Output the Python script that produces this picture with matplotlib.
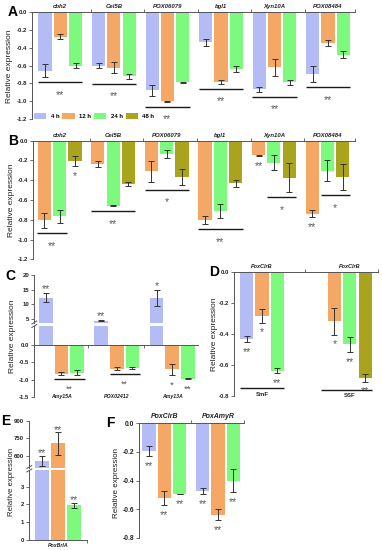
import matplotlib
matplotlib.use('Agg')
import matplotlib.pyplot as plt
from matplotlib.patches import Patch
from matplotlib.lines import Line2D

plt.rcParams['font.family'] = ['Liberation Sans', 'DejaVu Sans']

W, H = 382, 550
fig = plt.figure(figsize=(W / 100, H / 100), dpi=100)

COL = {'4 h': '#b4bcf6', '12 h': '#f5a766', '24 h': '#7dfa7d', '48 h': '#a9a31d'}
SPINE = '#555555'
ERRC = '#333333'
STARC = '#5a5a5a'
LINEC = '#1a1a1a'
time_labels = ['4 h', '12 h', '24 h', '48 h']

# ---------------- data ----------------
genes_AB = ['cbh2', 'Cel5B', 'POX06079', 'bgl1', 'Xyn10A', 'POX08484']
A_4h = [-0.66, -0.60, -0.88, -0.34, -0.867, -0.695]
A_4h_err = [0.073, 0.03, 0.065, 0.04, 0.025, 0.095]
A_12h = [-0.277, -0.624, -1.0, -0.785, -0.62, -0.35]
A_12h_err = [0.028, 0.058, 0.005, 0.02, 0.097, 0.034]
A_24h = [-0.60, -0.72, -0.79, -0.64, -0.79, -0.48]
A_24h_err = [0.026, 0.026, 0.007, 0.03, 0.026, 0.04]
A_sig = ['**', '**', '**', '**', '**', '**']

B_12h = [-0.806, -0.236, -0.31, -0.802, -0.148, -0.738]
B_12h_err = [0.078, 0.03, 0.108, 0.044, 0.005, 0.034]
B_24h = [-0.765, -0.66, -0.138, -0.711, -0.222, -0.303]
B_24h_err = [0.063, 0.005, 0.04, 0.069, 0.078, 0.104]
B_48h = [-0.206, -0.438, -0.364, -0.431, -0.377, -0.37]
B_48h_err = [0.05, 0.024, 0.08, 0.034, 0.147, 0.13]
B_sig_bars = [[0, 1], [0, 1, 2], [0, 1, 2], [0, 1, 2], [1, 2], [1, 2]]
B_sig = ['**', '**', '*', '**', '*', '*']
B_single = [(0, 2, '*'), (4, 0, '**'), (5, 0, '**')]

genes_C = ['Amy15A', 'POX02412', 'Amy13A']
C_4h = [12.3, 4.5, 12.3]
C_4h_err = [1.6, 0.15, 2.7]
C_12h = [-0.83, -0.69, -0.707]
C_12h_err = [0.05, 0.05, 0.15]
C_24h = [-0.80, -0.67, -0.974]
C_24h_err = [0.08, 0.03, 0.01]
C_4h_sig = ['**', '**', '*']
C_line_sig = ['**', '**', None]
C_single = [(2, 1, '*'), (2, 2, '**')]

D_conditions = ['SmF', 'SSF']
D_gene = 'PoxClrB'
D_SmF_times = ['4 h', '12 h', '24 h']
D_SmF = [-0.433, -0.282, -0.636]
D_SmF_err = [0.02, 0.046, 0.016]
D_SmF_sig = ['**', '*', '**']
D_SSF_times = ['12 h', '24 h', '48 h']
D_SSF = [-0.317, -0.466, -0.683]
D_SSF_err = [0.087, 0.05, 0.026]
D_SSF_sig = ['*', '**', '**']

E_gene = 'PoxBrlA'
E_vals = [555, 706, 1.95]
E_err = [45, 95, 0.16]
E_sig = ['**', '**', '**']

genes_F = ['PoxClrB', 'PoxAmyR']
F_4h = [-0.194, -0.473]
F_4h_err = [0.032, 0.023]
F_12h = [-0.522, -0.639]
F_12h_err = [0.049, 0.04]
F_24h = [-0.494, -0.403]
F_24h_err = [0.003, 0.08]
F_sig = ['**', '**']

GSTEP = 3.5
BW = 0.86


# ---------------- helpers ----------------
def add_ax(l, r, t, b):
    ax = fig.add_axes([l / W, 1 - b / H, (r - l) / W, (b - t) / H])
    ax.patch.set_alpha(0)
    for s in ax.spines.values():
        s.set_color(SPINE)
        s.set_linewidth(0.7)
    ax.tick_params(colors='#222222', labelsize=4.3, width=0.6, length=2.5, pad=1.2)
    ax.tick_params(color=SPINE)
    return ax


def yticks(ax, ticks, labels, size=4.3):
    ax.set_yticks(ticks)
    ax.set_yticklabels(labels, fontsize=size, fontweight='bold')


def bars(ax, xs, vals, errs, color, w=BW):
    ax.bar(xs, vals, w, color=color, linewidth=0, zorder=2)
    ax.errorbar(xs, vals, yerr=errs, fmt='none', ecolor=ERRC, elinewidth=0.7,
                capsize=2.3, capthick=0.7, zorder=3)


def star(ax, x, y, s, dpx, fs=7.5):
    ax.annotate(s, (x, y), xytext=(0, dpx * 0.72 - 0.58 * fs), textcoords='offset points',
                ha='center', va='baseline', fontsize=fs, color=STARC,
                annotation_clip=False)


def ppu(ax):
    y0, y1 = ax.get_ylim()
    return ax.get_position().height * H / (y1 - y0)


def sig_line(ax, x0, x1, y):
    ax.plot([x0, x1], [y, y], color=LINEC, lw=1.0, solid_capstyle='butt', clip_on=False, zorder=4)


def top_axis(ax, boundaries, names, centers, size=4.3):
    ax.spines['bottom'].set_visible(False)
    ax.spines['right'].set_visible(False)
    ax.xaxis.tick_top()
    ax.set_xticks(boundaries)
    ax.set_xticklabels([])
    ax.tick_params(axis='x', length=2, direction='out')
    for c, n in zip(centers, names):
        ax.annotate(n, (c, 0), xytext=(0, 2.3), textcoords='offset points', ha='center',
                    va='bottom', fontsize=size, fontstyle='italic', fontweight='bold',
                    color='#222222', annotation_clip=False)


def letter(x, y, s):
    fig.text(x / W, 1 - y / H, s, fontsize=10, fontweight='bold', ha='center', va='center')


def ylab(x, y, size=6):
    fig.text(x / W, 1 - y / H, 'Relative expression', rotation=90, ha='center', va='center',
             fontsize=size, color='#222222')


def break_marks(x, y1, y2):
    for yy in (y1, y2):
        fig.add_artist(Line2D([(x - 2.5) / W, (x + 2.5) / W], [1 - (yy + 1.5) / H, 1 - (yy - 1.5) / H],
                              color=SPINE, lw=0.7, transform=fig.transFigure))


def grouped(ax, series, n, step=GSTEP, w=BW):
    for i, (v, e, t) in enumerate(series):
        xs = [g * step + i for g in range(n)]
        bars(ax, xs, v, e, COL[t], w=w)


# ---------------- Panel A ----------------
axA = add_ax(32.3, 355, 12, 119)
axA.set_ylim(-1.2, 0)
axA.set_xlim(-0.83, 20.26)
yt = [0, -0.2, -0.4, -0.6, -0.8, -1.0, -1.2]
yticks(axA, yt, [f'{t:.1f}' for t in yt])
serA = [(A_4h, A_4h_err, '4 h'), (A_12h, A_12h_err, '12 h'), (A_24h, A_24h_err, '24 h')]
nA = len(genes_AB)
grouped(axA, serA, nA)
top_axis(axA, [2.98 + GSTEP * k for k in range(nA - 1)] + [20.26], genes_AB,
         [g * GSTEP + 1 for g in range(nA)])
pA = ppu(axA)
for g in range(nA):
    low = min(v[g] - e[g] for v, e, _ in serA)
    ly = low - 5 / pA
    sig_line(axA, g * GSTEP - 0.45, g * GSTEP + 2.45, ly)
    star(axA, g * GSTEP + 1, ly, A_sig[g], -9.5)
axA.legend(handles=[Patch(facecolor=COL[t], linewidth=0) for t in time_labels], labels=time_labels,
           loc='center left', bbox_to_anchor=(0.005, 0.025), ncol=4, frameon=False,
           prop={'size': 4.3, 'weight': 'bold'}, handlelength=2.1, handleheight=1.15,
           handletextpad=0.7, columnspacing=0.5, borderaxespad=0, borderpad=0)
letter(13, 12, 'A')
ylab(10, 66)

# ---------------- Panel B ----------------
axB = add_ax(33.3, 355, 140.7, 259.3)
axB.set_ylim(-1.2, 0)
axB.set_xlim(-0.72, 20.3)
yticks(axB, yt, [f'{t:.1f}' for t in yt])
serB = [(B_12h, B_12h_err, '12 h'), (B_24h, B_24h_err, '24 h'), (B_48h, B_48h_err, '48 h')]
grouped(axB, serB, nA)
top_axis(axB, [2.98 + GSTEP * k for k in range(nA - 1)] + [20.3], genes_AB,
         [g * GSTEP + 1 for g in range(nA)])
pB = ppu(axB)
for g in range(nA):
    idx = B_sig_bars[g]
    low = min(serB[i][0][g] - serB[i][1][g] for i in idx)
    ly = low - 5 / pB
    sig_line(axB, g * GSTEP + idx[0] - 0.45, g * GSTEP + idx[-1] + 0.45, ly)
    star(axB, g * GSTEP + (idx[0] + idx[-1]) / 2, ly, B_sig[g], -9.5)
for g, i, s in B_single:
    v, e, _ = serB[i]
    star(axB, g * GSTEP + i, v[g] - e[g], s, -7)
letter(13, 141, 'B')
ylab(12, 200)

# ---------------- Panel C ----------------
CST = 3.55
C_l, C_r = 34.3, 198
axCu = add_ax(C_l, C_r, 275, 323)
axCl = add_ax(C_l, C_r, 325.5, 396.9)
axCu.set_ylim(3.71, 20)
axCl.set_ylim(-1.5, 0.552)
for ax in (axCu, axCl):
    ax.set_xlim(-0.74, 9.76)
    ax.spines['right'].set_visible(False)
    ax.spines['top'].set_visible(False)
axCu.spines['bottom'].set_visible(False)
axCu.set_xticks([])
yticks(axCu, [5, 10, 15, 20], ['5', '10', '15', '20'])
yticks(axCl, [0, -0.5, -1.0, -1.5], ['0.0', '-0.5', '-1.0', '-1.5'])
axCl.spines['bottom'].set_position(('data', 0))
axCl.set_xticks([2.72, 2.72 + CST])
axCl.set_xticklabels([])
axCl.tick_params(axis='x', length=2, direction='out')
serC = [(C_4h, C_4h_err, '4 h'), (C_12h, C_12h_err, '12 h'), (C_24h, C_24h_err, '24 h')]
nC = len(genes_C)
for ax in (axCu, axCl):
    grouped(ax, serC, nC, step=CST, w=0.88)
pCl = ppu(axCl)
for g in range(nC):
    star(axCu, g * CST, C_4h[g] + C_4h_err[g], C_4h_sig[g], 7)
    if C_line_sig[g]:
        low = min(serC[i][0][g] - serC[i][1][g] for i in (1, 2))
        ly = low - 4 / pCl
        sig_line(axCl, g * CST + 0.55, g * CST + 2.5, ly)
        star(axCl, g * CST + 1.5, ly, C_line_sig[g], -7.5, fs=6.3)
    axCl.text(g * CST + 1, -1.5, genes_C[g], ha='center', va='center', fontsize=3.8,
              fontstyle='italic', fontweight='bold', color='#222222')
for g, i, s in C_single:
    v, e, _ = serC[i]
    star(axCl, g * CST + i, v[g] - e[g], s, -7.5, fs=6.8)
break_marks(C_l, 322.5, 326)
letter(10, 276, 'C')
ylab(13, 336)

# ---------------- Panel D ----------------
axD = add_ax(234, 378.3, 272.3, 396)
axD.set_ylim(-0.8, 0)
axD.set_xlim(-0.83, 8.58)
ytD = [0, -0.2, -0.4, -0.6, -0.8]
yticks(axD, ytD, [f'{t:.1f}' for t in ytD])
D_off = 4.72
slot = {'4 h': 0, '12 h': 1, '24 h': 2, '48 h': 3}
xs_SmF = [slot[t] for t in D_SmF_times]
xs_SSF = [D_off + slot[t] for t in D_SSF_times]
for x, v, e, t in zip(xs_SmF, D_SmF, D_SmF_err, D_SmF_times):
    bars(axD, [x], [v], [e], COL[t])
for x, v, e, t in zip(xs_SSF, D_SSF, D_SSF_err, D_SSF_times):
    bars(axD, [x], [v], [e], COL[t])
top_axis(axD, [3.8, 8.58], [D_gene, D_gene], [1, D_off + 2], size=4.0)
for x, v, e, s in zip(xs_SmF, D_SmF, D_SmF_err, D_SmF_sig):
    star(axD, x, v - e, s, -6.5)
for x, v, e, s in zip(xs_SSF, D_SSF, D_SSF_err, D_SSF_sig):
    star(axD, x, v - e, s, -6.5)
pD = ppu(axD)
sig_line(axD, xs_SmF[0] - 0.45, xs_SmF[-1] + 0.45, -0.8 + 8.3 / pD)
sig_line(axD, xs_SSF[0] - 0.85, xs_SSF[-1] + 0.45, -0.8 + 6 / pD)
axD.text(1, -0.8 + 2 / pD, D_conditions[0], ha='center', va='center', fontsize=4.3,
         fontweight='bold', color='#222222')
axD.text(D_off + 2, -0.8 + 0.5 / pD, D_conditions[1], ha='center', va='center', fontsize=4.3,
         fontweight='bold', color='#222222')
letter(214.5, 272, 'D')
ylab(214.7, 334)

# ---------------- Panel E ----------------
E_l, E_r = 29.3, 87
axEu = add_ax(E_l, E_r, 420.7, 467.5)
axEl = add_ax(E_l, E_r, 469.7, 540)
axEu.set_ylim(500, 900)
axEl.set_ylim(0, 3.96)
for ax in (axEu, axEl):
    ax.set_xlim(-0.82, 2.83)
    ax.spines['right'].set_visible(False)
    ax.spines['top'].set_visible(False)
    for x, v, e, t in zip(range(3), E_vals, E_err, time_labels[:3]):
        bars(ax, [x], [v], [e], COL[t], w=0.89)
axEu.spines['bottom'].set_visible(False)
axEu.set_xticks([])
yticks(axEu, [600, 750, 900], ['600', '750', '900'])
yticks(axEl, [0, 1, 2, 3], ['0', '1', '2', '3'])
axEl.set_xticks([2.83])
axEl.set_xticklabels([])
axEl.tick_params(axis='x', length=2)
for x, v, e, s in zip(range(3), E_vals, E_err, E_sig):
    ax = axEu if v > 4 else axEl
    star(ax, x, v + e, s, 5.6)
axEl.annotate(E_gene, (1, 0), xytext=(0, -2.2), textcoords='offset points', ha='center', va='top',
              fontsize=3.8, fontstyle='italic', fontweight='bold', color='#222222')
break_marks(E_l, 467, 470.5)
letter(6, 421, 'E')
ylab(11.3, 482, size=5.6)

# ---------------- Panel F ----------------
axF = add_ax(139.3, 244, 423.3, 537.7)
axF.set_ylim(-0.8, 0)
axF.set_xlim(-0.63, 6.2)
yticks(axF, ytD, [f'{t:.1f}' for t in ytD], size=4.8)
serF = [(F_4h, F_4h_err, '4 h'), (F_12h, F_12h_err, '12 h'), (F_24h, F_24h_err, '24 h')]
nF = len(genes_F)
grouped(axF, serF, nF)
for i, (v, e, t) in enumerate(serF):
    for g in range(nF):
        star(axF, g * GSTEP + i, v[g] - e[g], F_sig[g], -7)
top_axis(axF, [2.74, 6.2], genes_F, [g * GSTEP + 1 for g in range(nF)], size=5.0)
letter(110, 423, 'F')
ylab(116, 483, size=5.8)

fig.savefig('out.png', dpi=100)
